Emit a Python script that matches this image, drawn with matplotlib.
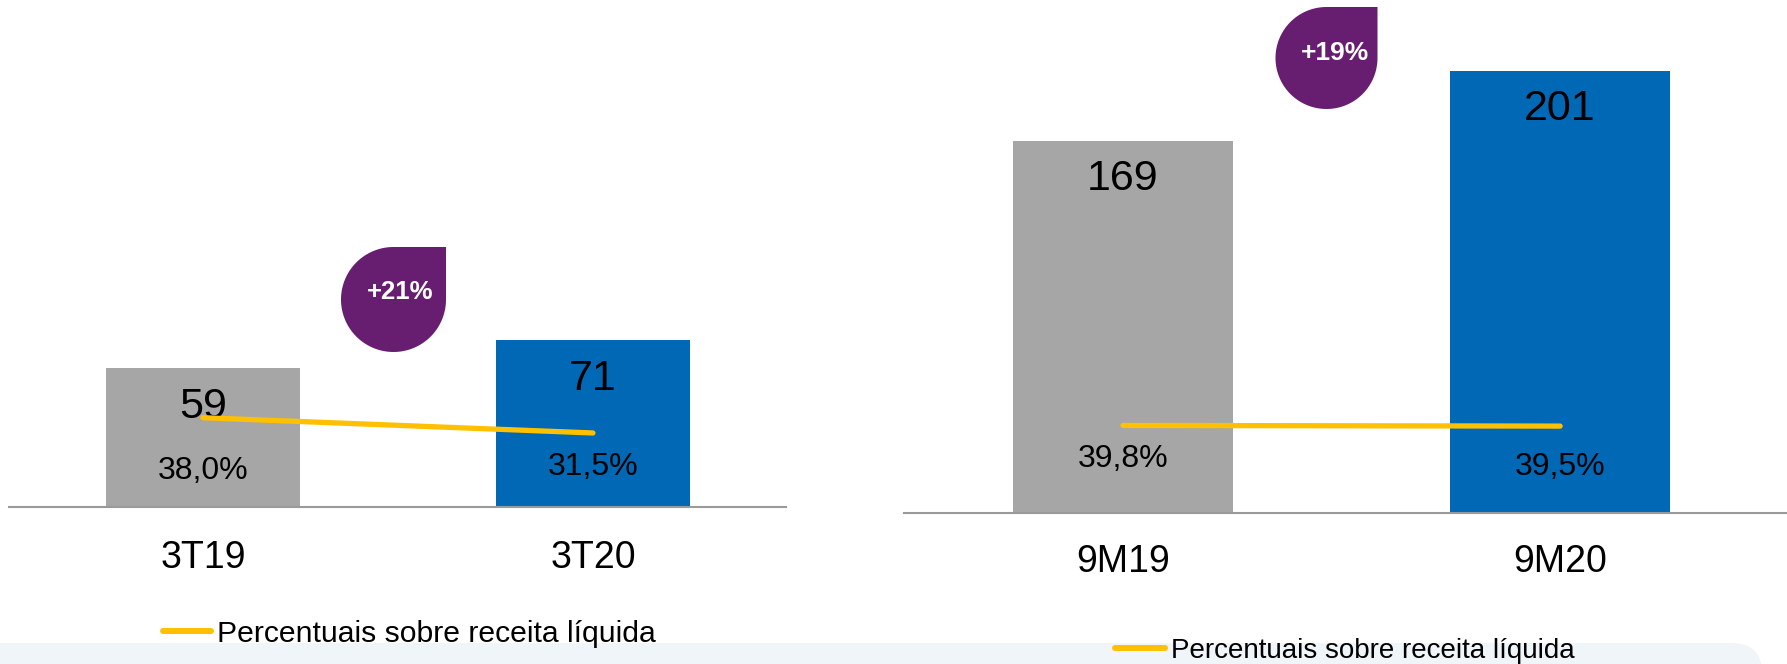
import matplotlib
matplotlib.use('Agg')
import matplotlib.pyplot as plt
from matplotlib.lines import Line2D
from matplotlib.patches import FancyBboxPatch, Polygon
import numpy as np

plt.rcParams['font.family'] = ['Liberation Sans', 'DejaVu Sans']

# ---- data ----
q_categories = ['3T19', '3T20']
q_values = [59, 71]
q_margin = [38.0, 31.5]
q_growth = '+21%'

ytd_categories = ['9M19', '9M20']
ytd_values = [169, 201]
ytd_margin = [39.8, 39.5]
ytd_growth = '+19%'

legend_label = 'Percentuais sobre receita líquida'

# ---- style ----
W, H = 1787, 664
GRAY = '#A6A6A6'
BLUE = '#0068B4'
GOLD = '#FFC000'
PURPLE = '#681E70'
AXIS = '#9A9A9A'
BAND = '#F0F5FA'

fig = plt.figure(figsize=(W / 100, H / 100), dpi=100)

# background overlay (pixel coordinates)
bg = fig.add_axes([0, 0, 1, 1], zorder=0)
bg.set_xlim(0, W)
bg.set_ylim(H, 0)
bg.axis('off')
bg.add_patch(FancyBboxPatch((-60, 643), 1762 + 60, 80,
                            boxstyle='round,pad=0,rounding_size=30',
                            fc=BAND, ec='none'))


def px_axes(x0, x1, base):
    return fig.add_axes([x0 / W, (H - base) / H, (x1 - x0) / W, base / H], zorder=1)


def fmt_pct(v):
    return f'{v:.1f}%'.replace('.', ',')


def panel(ax, cats, vals, margins, ytop, xlim, width, val_off, pct_off,
          tick_pad, leg_xy, leg_fs, leg_hl):
    x = np.arange(len(cats))
    ax.bar(x, vals, width=width, color=[GRAY, BLUE], zorder=2)
    ax.plot(x, margins, color=GOLD, lw=3.8, solid_capstyle='round', zorder=4)
    ax.set_xlim(*xlim)
    ax.set_ylim(0, ytop)
    ax.set_facecolor('none')
    for s in ['top', 'left', 'right']:
        ax.spines[s].set_visible(False)
    ax.spines['bottom'].set_color(AXIS)
    ax.spines['bottom'].set_linewidth(1.5)
    ax.spines['bottom'].set_zorder(5)
    ax.set_yticks([])
    ax.set_xticks(x)
    ax.set_xticklabels(cats, fontsize=27)
    ax.tick_params(axis='x', length=0, pad=tick_pad)
    for xi, v, m, po in zip(x, vals, margins, pct_off):
        ax.annotate(f'{v}', (xi, v), xytext=(0, -val_off), textcoords='offset pixels',
                    ha='center', va='center', fontsize=31, zorder=3)
        ax.annotate(fmt_pct(m), (xi, m), xytext=(0, -po), textcoords='offset pixels',
                    ha='center', va='center', fontsize=23, zorder=3)
    handle = Line2D([], [], color=GOLD, lw=4.3, solid_capstyle='round')
    ax.legend([handle], [legend_label], loc='center left',
              bbox_to_anchor=(leg_xy[0] / W, 1 - leg_xy[1] / H),
              bbox_transform=fig.transFigure, frameon=False, fontsize=leg_fs,
              handlelength=leg_hl, handletextpad=0.2, borderpad=0, borderaxespad=0)


ax1 = px_axes(9, 786, 507)
panel(ax1, q_categories, q_values, q_margin, 507 / 2.35, (-0.497, 1.495), 0.497,
      39, [53, 34], 24, (163, 634), 21.7, 1.6)

ax2 = px_axes(904, 1787, 513)
panel(ax2, ytd_categories, ytd_values, ytd_margin, 513 / 2.2, (-0.501, 1.519), 0.503,
      38, [34, 41], 22, (1115, 651), 20, 1.8)

# foreground overlay for growth badges
fg = fig.add_axes([0, 0, 1, 1], zorder=6)
fg.set_xlim(0, W)
fg.set_ylim(H, 0)
fg.axis('off')


def badge(cx, cy, r, text, tx, ty, fs):
    th = np.linspace(0, -1.5 * np.pi, 120)
    pts = np.column_stack([cx + r * np.cos(th), cy - r * np.sin(th)])
    pts = np.vstack([pts, [cx + r, cy - r]])
    fg.add_patch(Polygon(pts, closed=True, fc=PURPLE, ec='none'))
    fg.text(tx, ty, text, color='white', fontsize=fs, fontweight='bold',
            ha='center', va='center')


badge(393.5, 299.5, 52.5, q_growth, 400, 292, 18.5)
badge(1326.5, 58, 51, ytd_growth, 1335, 53, 19)

fig.savefig('out.png', dpi=100)
